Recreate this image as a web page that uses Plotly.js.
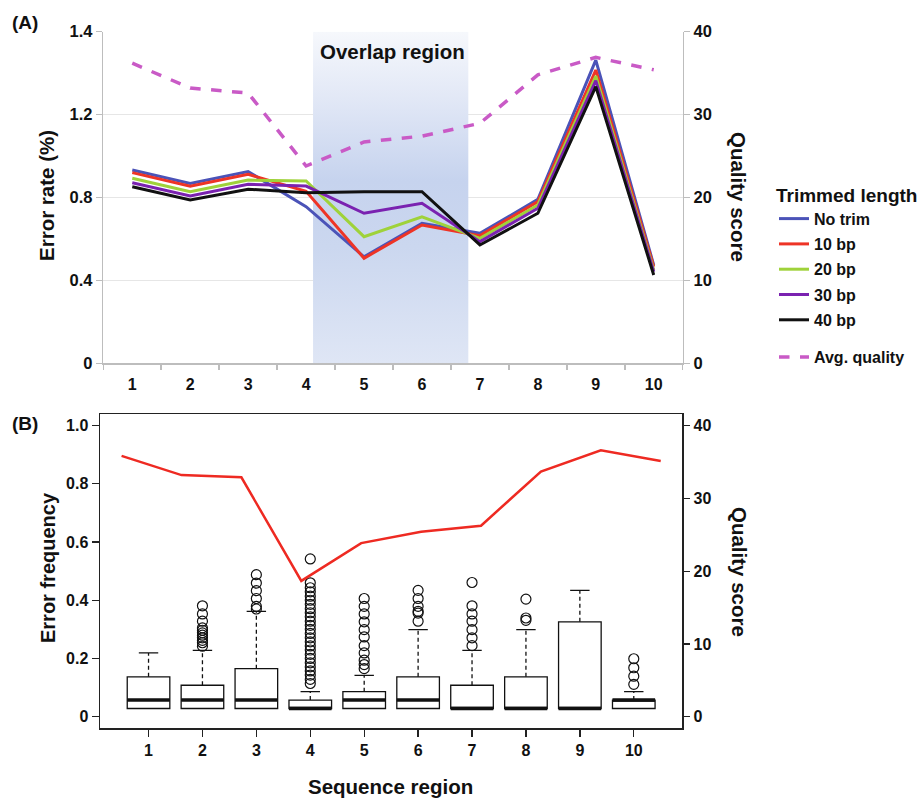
<!DOCTYPE html>
<html>
<head>
<meta charset="utf-8">
<script src="https://cdn.plot.ly/plotly-3.0.1.min.js"></script>
<style>html,body{margin:0;padding:0;background:#fff;}#chart{width:922px;height:798px;}</style>
</head>
<body>
<div id="chart"></div>
<script>
// ---------- Data: panel A ----------
const regions = [1, 2, 3, 4, 5, 6, 7, 8, 9, 10];
const regionLabels = ['1', '2', '3', '4', '5', '6', '7', '8', '9', '10'];
const noTrim = [0.933, 0.868, 0.925, 0.756, 0.514, 0.676, 0.627, 0.791, 1.463, 0.474];
const trim10 = [0.920, 0.855, 0.912, 0.830, 0.507, 0.667, 0.616, 0.780, 1.415, 0.466];
const trim20 = [0.893, 0.828, 0.884, 0.880, 0.611, 0.707, 0.603, 0.764, 1.386, 0.450];
const trim30 = [0.871, 0.807, 0.864, 0.855, 0.724, 0.772, 0.587, 0.748, 1.364, 0.442];
const trim40 = [0.852, 0.788, 0.840, 0.823, 0.828, 0.828, 0.571, 0.724, 1.335, 0.426];
const avgQualityA = [36.2, 33.2, 32.6, 23.8, 26.7, 27.4, 28.95, 34.8, 36.9, 35.4];
const overlapRegion = [4.12, 6.8];
const errorRateTicks = [0, 0.4, 0.8, 1.2, 1.6];
const errorRateTickText = ['0', '0.4', '0.8', '1.2', '1.4'];
const qualityTicks = [0, 10, 20, 30, 40];

// ---------- Data: panel B ----------
const boxQ1 = [0.028, 0.028, 0.028, 0.028, 0.028, 0.028, 0.028, 0.028, 0.028, 0.028];
const boxMedian = [0.057, 0.057, 0.057, 0.028, 0.057, 0.057, 0.028, 0.028, 0.028, 0.057];
const boxQ3 = [0.137, 0.108, 0.165, 0.057, 0.086, 0.137, 0.108, 0.137, 0.326, 0.057];
const boxUpper = [0.219, 0.228, 0.362, 0.086, 0.142, 0.299, 0.228, 0.299, 0.434, 0.086];
const outliers1 = [];
const outliers2 = [0.242, 0.254, 0.262, 0.271, 0.280, 0.288, 0.297, 0.305, 0.328, 0.353, 0.381];
const outliers3 = [0.370, 0.379, 0.406, 0.433, 0.459, 0.488];
const outliers4 = [0.114, 0.128, 0.143, 0.157, 0.171, 0.185, 0.200, 0.214, 0.229, 0.243, 0.257, 0.271,
                   0.286, 0.300, 0.314, 0.328, 0.343, 0.357, 0.371, 0.386, 0.400, 0.414, 0.429, 0.443, 0.460, 0.542];
const outliers5 = [0.165, 0.179, 0.194, 0.219, 0.244, 0.274, 0.299, 0.326, 0.353, 0.379, 0.406];
const outliers6 = [0.328, 0.356, 0.362, 0.379, 0.406, 0.434];
const outliers7 = [0.244, 0.271, 0.299, 0.328, 0.353, 0.381, 0.461];
const outliers8 = [0.331, 0.339, 0.404];
const outliers9 = [];
const outliers10 = [0.111, 0.139, 0.168, 0.199];
const avgQualityB = [35.85, 33.2, 32.9, 18.66, 23.85, 25.4, 26.25, 33.7, 36.6, 35.15];
const freqTicks = [0, 0.2, 0.4, 0.6, 0.8, 1.0];
const freqTickText = ['0', '0.2', '0.4', '0.6', '0.8', '1.0'];

// ---------- helpers ----------
const FONT = 'Liberation Sans, Arial, sans-serif';
const W = 922, H = 798;
const px = v => v / W;
const py = v => 1 - v / H;
const bold = (size, color) => ({family: FONT, size: size, color: color || '#111', weight: 'bold'});

const traces = [];

// Overlap region shading (vertical gradient, darkest in the middle)
traces.push({
  type: 'scatter', mode: 'none', xaxis: 'x', yaxis: 'y',
  x: [overlapRegion[0], overlapRegion[1], overlapRegion[1], overlapRegion[0], overlapRegion[0]],
  y: [errorRateTicks[0], errorRateTicks[0], errorRateTicks[4], errorRateTicks[4], errorRateTicks[0]],
  fill: 'toself',
  fillgradient: {
    type: 'vertical', start: errorRateTicks[0], stop: errorRateTicks[4],
    colorscale: [[0, '#dfe6f5'], [0.35, '#cbd7ef'], [0.55, '#c6d3ee'], [0.8, '#e2e8f6'], [1, '#f6f8fc']]
  },
  hoverinfo: 'skip', showlegend: false
});

const lineSeries = [
  {name: 'No trim', data: noTrim, color: '#4b53b8'},
  {name: '10 bp', data: trim10, color: '#ee3426'},
  {name: '20 bp', data: trim20, color: '#9fd23a'},
  {name: '30 bp', data: trim30, color: '#7a22b0'},
  {name: '40 bp', data: trim40, color: '#111111'}
];
lineSeries.forEach(s => traces.push({
  type: 'scatter', mode: 'lines', name: s.name, x: regions, y: s.data, legendgroup: s.name,
  xaxis: 'x', yaxis: 'y', line: {color: s.color, width: 3}, legend: 'legend'
}));

traces.push({
  type: 'scatter', mode: 'lines', name: 'Avg. quality', x: regions, y: avgQualityA,
  xaxis: 'x2', yaxis: 'y2', line: {color: '#c95ac6', width: 3.5, dash: 'dash'}, legend: 'legend2'
});

// Panel B boxes
traces.push({
  type: 'box', x: regions, q1: boxQ1, median: boxMedian, q3: boxQ3,
  lowerfence: boxQ1, upperfence: boxQ3, width: 0.79, whiskerwidth: 0,
  fillcolor: '#ffffff', line: {color: '#111', width: 1.3}, boxpoints: false,
  xaxis: 'x3', yaxis: 'y3', showlegend: false, hoverinfo: 'skip'
});
const medX = [], medY = [], whX = [], whY = [], capX = [], capY = [];
regions.forEach((r, i) => {
  medX.push(r - 0.395, r + 0.395, null); medY.push(boxMedian[i], boxMedian[i], null);
  whX.push(r, r, null); whY.push(boxQ3[i], boxUpper[i], null);
  capX.push(r - 0.18, r + 0.18, null); capY.push(boxUpper[i], boxUpper[i], null);
});
traces.push({type: 'scatter', mode: 'lines', x: whX, y: whY, xaxis: 'x3', yaxis: 'y3',
  line: {color: '#111', width: 1.3, dash: '4px,3px'}, showlegend: false, hoverinfo: 'skip'});
traces.push({type: 'scatter', mode: 'lines', x: capX, y: capY, xaxis: 'x3', yaxis: 'y3',
  line: {color: '#111', width: 1.3}, showlegend: false, hoverinfo: 'skip'});
traces.push({type: 'scatter', mode: 'lines', x: medX, y: medY, xaxis: 'x3', yaxis: 'y3',
  line: {color: '#111', width: 3.5}, showlegend: false, hoverinfo: 'skip'});

const outlierSets = [outliers1, outliers2, outliers3, outliers4, outliers5, outliers6, outliers7, outliers8, outliers9, outliers10];
const oX = [], oY = [];
outlierSets.forEach((set, i) => set.forEach(v => { oX.push(regions[i]); oY.push(v); }));
traces.push({type: 'scatter', mode: 'markers', x: oX, y: oY, xaxis: 'x3', yaxis: 'y3',
  marker: {symbol: 'circle-open', size: 10, color: '#111', line: {width: 1.2}},
  showlegend: false, hoverinfo: 'skip'});

traces.push({type: 'scatter', mode: 'lines', x: regions, y: avgQualityB, xaxis: 'x4', yaxis: 'y4',
  line: {color: '#ee2a22', width: 2.5}, showlegend: false});

// ---------- layout ----------
const topX = [px(103.3), px(682.7)];
const topY = [py(363.3), py(31.7)];
const botX = [px(100), px(682.3)];
const botY = [py(728.3), py(414)];
const gray = '#bdbdbd';

const layout = {
  width: W, height: H,
  margin: {l: 0, r: 0, t: 0, b: 0},
  paper_bgcolor: '#fff', plot_bgcolor: 'rgba(0,0,0,0)',
  font: {family: FONT, color: '#111'},
  showlegend: true,
  xaxis: {
    domain: topX, anchor: 'y', range: [0.5, 10.5], tickmode: 'array',
    tickvals: regions, ticktext: regionLabels, ticks: 'outside', ticklen: 6,
    tickcolor: 'rgba(0,0,0,0)', tickfont: bold(16), showgrid: false, zeroline: false,
    showline: true, linecolor: gray, linewidth: 1.5, automargin: false, fixedrange: true
  },
  xaxis2: {
    overlaying: 'x', anchor: 'y2', range: [0.5, 10.5], tickmode: 'array',
    tickvals: [0.5, 1.5, 2.5, 3.5, 4.5, 5.5, 6.5, 7.5, 8.5, 9.5, 10.5],
    showticklabels: false, ticks: 'outside', ticklen: 6, tickcolor: gray, tickwidth: 1.5,
    showgrid: false, zeroline: false, showline: false, automargin: false
  },
  yaxis: {
    domain: topY, anchor: 'x', range: [0, 1.6], tickmode: 'array',
    tickvals: errorRateTicks, ticktext: errorRateTickText, ticks: 'outside', ticklen: 6,
    tickcolor: gray, tickwidth: 1.5, tickfont: bold(16.5), showgrid: true, gridcolor: '#e6e6e6',
    gridwidth: 1, zeroline: false, showline: true, linecolor: gray, linewidth: 1.5, automargin: false
  },
  yaxis2: {
    overlaying: 'y', anchor: 'x2', side: 'right', range: [0, 40], tickmode: 'array',
    tickvals: qualityTicks, ticks: 'outside', ticklen: 6, tickcolor: gray, tickwidth: 1.5,
    tickfont: bold(16.5), showgrid: false, zeroline: false, showline: true, linecolor: gray,
    linewidth: 1.5, automargin: false
  },
  xaxis3: {
    domain: botX, anchor: 'y3', range: [0.1, 10.9], tickmode: 'array',
    tickvals: regions, ticktext: regionLabels, ticks: 'outside', ticklen: 7, tickcolor: '#222',
    tickwidth: 1.3, tickfont: bold(16), showgrid: false, zeroline: false,
    showline: true, mirror: true, linecolor: '#222', linewidth: 1.5, automargin: false
  },
  xaxis4: {
    overlaying: 'x3', anchor: 'y4', range: [0.64, 10.36], visible: false
  },
  yaxis3: {
    domain: botY, anchor: 'x3', range: [-0.04, 1.04], tickmode: 'array',
    tickvals: freqTicks, ticktext: freqTickText, ticks: 'outside', ticklen: 7, tickcolor: '#222',
    tickwidth: 1.3, tickfont: bold(16), showgrid: false, zeroline: false,
    showline: true, mirror: true, linecolor: '#222', linewidth: 1.5, automargin: false
  },
  yaxis4: {
    overlaying: 'y3', anchor: 'x4', side: 'right', range: [-1.6, 41.6], tickmode: 'array',
    tickvals: qualityTicks, ticks: 'outside', ticklen: 7, tickcolor: '#222', tickwidth: 1.3,
    tickfont: bold(16), showgrid: false, zeroline: false, showline: false, automargin: false
  },
  legend: {
    x: px(774), y: py(177), xanchor: 'left', yanchor: 'top',
    title: {text: 'Trimmed length', font: bold(19)},
    font: bold(16), bgcolor: 'rgba(0,0,0,0)', borderwidth: 0, tracegroupgap: 1.5,
    traceorder: 'grouped'
  },
  legend2: {
    x: px(774), y: py(340), xanchor: 'left', yanchor: 'top',
    font: bold(16), bgcolor: 'rgba(0,0,0,0)', borderwidth: 0
  },
  annotations: [
    {text: '(A)', x: px(10), y: py(22), xref: 'paper', yref: 'paper', xanchor: 'left', yanchor: 'middle', showarrow: false, font: bold(19)},
    {text: '(B)', x: px(10), y: py(423), xref: 'paper', yref: 'paper', xanchor: 'left', yanchor: 'middle', showarrow: false, font: bold(19)},
    {text: 'Overlap region', x: px(392), y: py(51), xref: 'paper', yref: 'paper', xanchor: 'center', yanchor: 'middle', showarrow: false, font: bold(20.5)},
    {text: 'Error rate (%)', x: px(46), y: py(196), xref: 'paper', yref: 'paper', xanchor: 'center', yanchor: 'middle', textangle: -90, showarrow: false, font: bold(20.5)},
    {text: 'Quality score', x: px(738), y: py(197), xref: 'paper', yref: 'paper', xanchor: 'center', yanchor: 'middle', textangle: 90, showarrow: false, font: bold(20.5)},
    {text: 'Error frequency', x: px(48), y: py(568), xref: 'paper', yref: 'paper', xanchor: 'center', yanchor: 'middle', textangle: -90, showarrow: false, font: bold(20)},
    {text: 'Quality score', x: px(740), y: py(572), xref: 'paper', yref: 'paper', xanchor: 'center', yanchor: 'middle', textangle: 90, showarrow: false, font: bold(20.5)},
    {text: 'Sequence region', x: px(390), y: py(786), xref: 'paper', yref: 'paper', xanchor: 'center', yanchor: 'middle', showarrow: false, font: bold(20.5)}
  ]
};

Plotly.newPlot('chart', traces, layout, {staticPlot: true, displayModeBar: false});
</script>
</body>
</html>
